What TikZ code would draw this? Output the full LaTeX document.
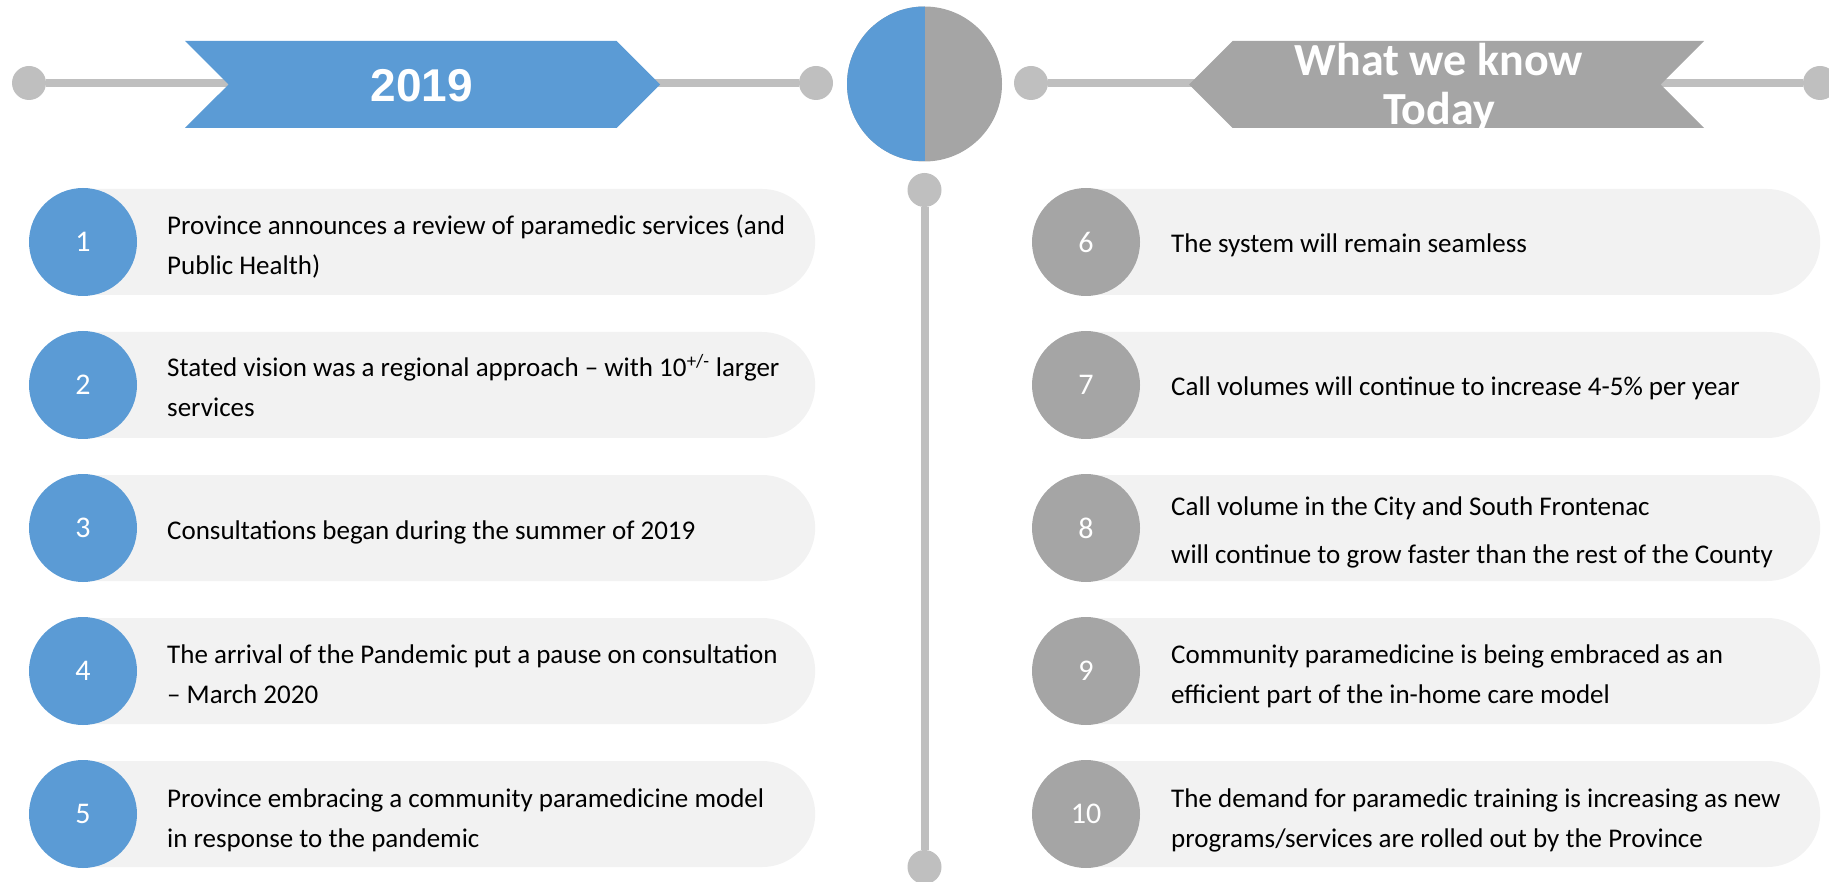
\documentclass[tikz,border=0pt]{standalone}
\usepackage{fontspec}
\setmainfont{Carlito}
\newfontfamily\yearfont{Liberation Sans}
\usetikzlibrary{shapes.symbols,shapes.misc}

\definecolor{hdrBlue}{HTML}{5B9BD5}
\definecolor{hdrGrey}{HTML}{A5A5A5}
\definecolor{lineGrey}{HTML}{BFBFBF}
\definecolor{pillGrey}{HTML}{F2F2F2}

\tikzstyle{dotNode}=[circle,fill=lineGrey,minimum size=34pt,inner sep=0pt]
\tikzstyle{timeLine}=[draw=lineGrey,line width=8pt]
\tikzstyle{bannerNode}=[signal,signal pointer angle=90,minimum height=87pt,inner sep=0pt]
\tikzstyle{numNode}=[circle,minimum size=108pt,inner sep=0pt,text=white,font=\fontsize{30}{36}\selectfont]
\tikzstyle{pillNode}=[rounded rectangle,rounded rectangle left arc=none,fill=pillGrey,minimum height=106pt,inner sep=0pt,anchor=west]
\tikzstyle{itemText}=[anchor=base west,align=left,inner sep=0pt,font=\fontsize{27}{40}\selectfont]

\begin{document}
\begin{tikzpicture}[x=1pt,y=-1pt]
		\useasboundingbox (0,0) rectangle (1829,882);
		
		% timelines
		\node[dotNode] (l1) at (29,83) {};
		\node[dotNode] (l2) at (816,83) {};
		\node[dotNode] (r1) at (1031,83) {};
		\node[dotNode] (r2) at (1820,83) {};
		\node[dotNode] (v1) at (924.5,190) {};
		\node[dotNode] (v2) at (924.5,867) {};
		\draw[timeLine] (l1) -- (l2);
		\draw[timeLine] (r1) -- (r2);
		\draw[timeLine] (v1) -- (v2);
		
		% headers
		\node[bannerNode,fill=hdrBlue,signal to=east,signal from=west,minimum width=475pt] (yr) at (422.5,84.5) {};
		\node[anchor=base,text=white,font=\yearfont\bfseries\fontsize{46}{50}\selectfont] (yrText) at (422,102) {2019};
		\node[bannerNode,fill=hdrGrey,signal to=west,signal from=east,minimum width=515pt] (td) at (1446.5,84.5) {};
		\node[anchor=base,align=center,text=white,font=\bfseries\fontsize{46}{49}\selectfont] (tdText) at (1439,125) {What we know\\Today};
		\node[circle,minimum size=155pt,inner sep=0pt,fill=hdrGrey,path picture={\fill[hdrBlue] (path picture bounding box.north west) rectangle (path picture bounding box.south);}] (hub) at (924.5,84) {};
		
		% left column
		\node[pillNode,minimum width=732pt] (p1) at (83,242) {};
		\node[pillNode,minimum width=732pt] (p2) at (83,385) {};
		\node[pillNode,minimum width=732pt] (p3) at (83,528) {};
		\node[pillNode,minimum width=732pt] (p4) at (83,671) {};
		\node[pillNode,minimum width=732pt] (p5) at (83,814) {};
		\node[numNode,fill=hdrBlue] (n1) at (83,242) {1};
		\node[numNode,fill=hdrBlue] (n2) at (83,385) {2};
		\node[numNode,fill=hdrBlue] (n3) at (83,528) {3};
		\node[numNode,fill=hdrBlue] (n4) at (83,671) {4};
		\node[numNode,fill=hdrBlue] (n5) at (83,814) {5};
		\node[itemText] (t1) at (167,275) {Province announces a review of paramedic services (and\\Public Health)};
		\node[itemText] (t2) at (167,417) {Stated vision was a regional approach -- with 10\textsuperscript{+/-} larger\\services};
		\node[itemText] (t3) at (167,539) {Consultations began during the summer of 2019};
		\node[itemText] (t4) at (167,703) {The arrival of the Pandemic put a pause on consultation\\-- March 2020};
		\node[itemText] (t5) at (167,847) {Province embracing a community paramedicine model\\in response to the pandemic};
		
		% right column
		\node[pillNode,minimum width=734pt] (p6) at (1086,242) {};
		\node[pillNode,minimum width=734pt] (p7) at (1086,385) {};
		\node[pillNode,minimum width=734pt] (p8) at (1086,528) {};
		\node[pillNode,minimum width=734pt] (p9) at (1086,671) {};
		\node[pillNode,minimum width=734pt] (p10) at (1086,814) {};
		\node[numNode,fill=hdrGrey] (n6) at (1086,242) {6};
		\node[numNode,fill=hdrGrey] (n7) at (1086,385) {7};
		\node[numNode,fill=hdrGrey] (n8) at (1086,528) {8};
		\node[numNode,fill=hdrGrey] (n9) at (1086,671) {9};
		\node[numNode,fill=hdrGrey] (n10) at (1086,814) {10};
		\node[itemText] (t6) at (1171,253) {The system will remain seamless};
		\node[itemText] (t7) at (1171,396) {Call volumes will continue to increase 4-5\% per year};
		\node[itemText] (t8) at (1171,563) {Call volume in the City and South Frontenac\\[8pt]will continue to grow faster than the rest of the County};
		\node[itemText] (t9) at (1171,703) {Community paramedicine is being embraced as an\\efficient part of the in-home care model};
		\node[itemText] (t10) at (1171,847) {The demand for paramedic training is increasing as new\\programs/services are rolled out by the Province};
\end{tikzpicture}
\end{document}
